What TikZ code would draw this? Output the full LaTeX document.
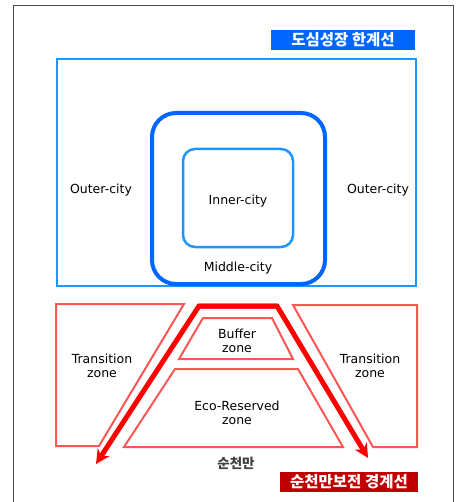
\documentclass[tikz,border=0pt]{standalone}
\usepackage{fontspec}
\setmainfont{DejaVu Sans}
\newfontfamily\kr{Noto Sans CJK KR}
\usetikzlibrary{arrows.meta}
\definecolor{lblue}{RGB}{30,150,255}
\definecolor{dblue}{RGB}{0,102,255}
\definecolor{zred}{RGB}{255,85,85}
\definecolor{dred}{RGB}{192,0,0}
\tikzset{
  lbl/.style={font=\fontsize{12.5}{14}\selectfont, align=center, text=black, inner sep=0pt},
  zone/.style={draw=zred, line width=2pt, line join=miter},
  tagbox/.style={font=\kr\bfseries\fontsize{15.5}{17}\selectfont, text=white, inner sep=0pt, minimum height=20pt},
  bigarrow/.style={draw=red, line width=5pt, -{Stealth[length=14pt,width=14pt]}}
}
\begin{document}
\begin{tikzpicture}[x=1pt,y=-1pt]
\useasboundingbox (0,0) rectangle (459,502);
% frame
\draw[black!70, line width=1pt] (13,502) -- (13,5.5) -- (453,5.5) -- (453,502);
% title box
\node[tagbox, fill=dblue, minimum width=144pt] (title) at (343,40) {도심성장 한계선};
% city boxes
\draw[lblue, line width=2pt] (57,59) rectangle (416,286);
\draw[dblue, line width=4pt, rounded corners=24pt] (152,113) rectangle (325,284);
\draw[lblue, line width=2.5pt, rounded corners=12pt] (183,149) rectangle (293,247);
\node[lbl] (outerL) at (101,190) {Outer-city};
\node[lbl] (outerR) at (378,190) {Outer-city};
\node[lbl] (inner) at (238,201) {Inner-city};
\node[lbl] (middle) at (238,268) {Middle-city};
% zones
\draw[zone] (56,304) -- (184,304) -- (99,446) -- (56,446) -- cycle;
\draw[zone] (203,318) -- (272,318) -- (293,359) -- (179,359) -- cycle;
\draw[zone] (175,369) -- (298,369) -- (343,447) -- (124,447) -- cycle;
\draw[zone] (293,305) -- (417,305) -- (417,447) -- (373,447) -- cycle;
\node[lbl] (transL) at (102,366) {Transition\\zone};
\node[lbl] (transR) at (370,366) {Transition\\zone};
\node[lbl] (buffer) at (237,341) {Buffer\\zone};
\node[lbl] (eco) at (237,413) {Eco-Reserved\\zone};
% arrows
\coordinate (apexL) at (199,306);
\coordinate (apexR) at (277,306);
\coordinate (tipL) at (96,464);
\coordinate (tipR) at (368,458);
\draw[bigarrow] (apexR) -- (apexL) -- (tipL);
\draw[bigarrow] (apexL) -- (apexR) -- (tipR);
% bottom labels
\node[font=\kr\bfseries\fontsize{13.5}{15}\selectfont, text=black!75, inner sep=0pt] (bay) at (236,463) {순천만};
\node[tagbox, fill=dred, minimum width=138pt] (bound) at (349,482) {순천만보전 경계선};
\end{tikzpicture}
\end{document}
